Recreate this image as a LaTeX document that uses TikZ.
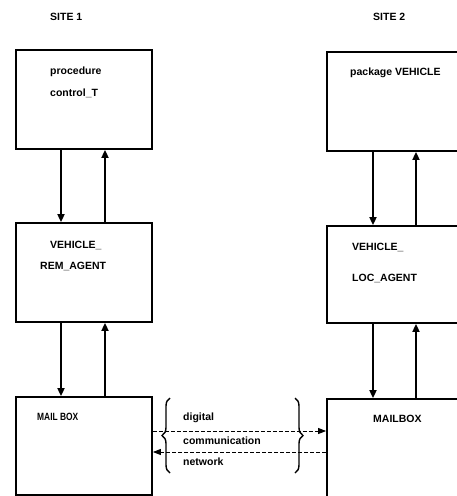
\documentclass[tikz,border=0pt]{standalone}
\usepackage{fontspec}
\setmainfont{Liberation Sans}
\usetikzlibrary{arrows.meta,decorations.pathreplacing}

\tikzset{
  unit/.style={draw, line width=1.8pt, minimum width=136pt, inner sep=0pt},
  lbl/.style={font=\fontsize{10.5}{12}\selectfont\bfseries, inner sep=0pt, anchor=west},
  flow/.style={line width=1.8pt, -{Triangle[length=8pt,width=7pt]}},
  net/.style={line width=1pt, dash pattern=on 4pt off 2pt, -{Triangle[length=8pt,width=6pt]}},
  brc/.style={line width=1.4pt, decorate, decoration={brace, amplitude=8pt}}
}

\begin{document}
\begin{tikzpicture}[x=1pt, y=-1pt]
  \useasboundingbox (0,0) rectangle (457,496);
  \clip (0,0) rectangle (457,496);

  % site headings
  \node[lbl] (s1) at (50,17) {SITE 1};
  \node[lbl] (s2) at (373,17) {SITE 2};

  % site 1 units
  \node[unit, minimum height=99pt] (L1) at (84,99.5) {};
  \node[unit, minimum height=99pt] (L2) at (84,272.5) {};
  \node[unit, minimum height=98pt] (L3) at (84,446) {};

  % site 2 units (running off the right edge)
  \node[unit, minimum height=99pt] (R1) at (395,101.5) {};
  \node[unit, minimum height=97pt] (R2) at (395,274.5) {};
  \node[unit, minimum height=98pt] (R3) at (395,448) {};

  % unit texts
  \node[lbl] (t1) at (50,72) {procedure};
  \node[lbl] (t2) at (50,93) {control\_T};
  \node[lbl] (t3) at (50,245) {VEHICLE\_};
  \node[lbl] (t4) at (40,266) {REM\_AGENT};
  \node[lbl] (t5) at (37,417) {\scalebox{0.8}[1]{MAIL BOX}};
  \node[lbl] (t6) at (350,73) {package VEHICLE};
  \node[lbl] (t7) at (352,247) {VEHICLE\_};
  \node[lbl] (t8) at (352,278) {LOC\_AGENT};
  \node[lbl] (t9) at (373,419) {MAILBOX};

  % columns of the vertical links
  \coordinate (ld) at (61,0);
  \coordinate (lu) at (105,0);
  \coordinate (rd) at (373,0);
  \coordinate (ru) at (416,0);

  % site 1 links
  \draw[flow] (L1.south -| ld) -- (L2.north -| ld);
  \draw[flow] (L2.north -| lu) -- (L1.south -| lu);
  \draw[flow] (L2.south -| ld) -- (L3.north -| ld);
  \draw[flow] (L3.north -| lu) -- (L2.south -| lu);

  % site 2 links
  \draw[flow] (R1.south -| rd) -- (R2.north -| rd);
  \draw[flow] (R2.north -| ru) -- (R1.south -| ru);
  \draw[flow] (R2.south -| rd) -- (R3.north -| rd);
  \draw[flow] (R3.north -| ru) -- (R2.south -| ru);

  % network between the mailboxes
  \coordinate (ny1) at (0,431);
  \coordinate (ny2) at (0,452);
  \draw[net] (L3.east |- ny1) -- (R3.west |- ny1);
  \draw[net] (R3.west |- ny2) -- (L3.east |- ny2);

  \draw[brc] (170,473) -- (170,398);
  \draw[brc] (295,398) -- (295,473);

  \node[lbl] (n1) at (183,418) {digital};
  \node[lbl] (n2) at (183,441) {communication};
  \node[lbl] (n3) at (183,462) {network};
\end{tikzpicture}
\end{document}
